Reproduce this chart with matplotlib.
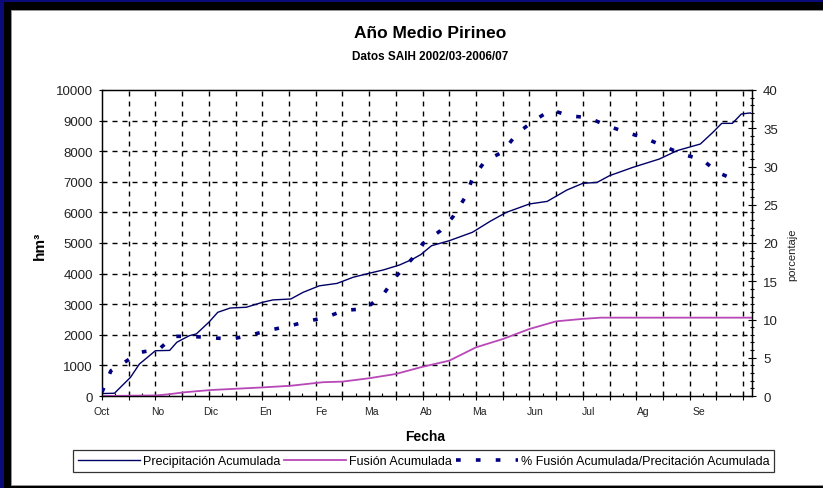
import matplotlib.pyplot as plt
from matplotlib.patches import Rectangle
from matplotlib.ticker import MultipleLocator

plt.rcParams['font.family'] = ['Liberation Sans', 'DejaVu Sans']

# days counted from 1 October
precip_days = [0, 7, 16, 21, 30, 38, 42, 49, 53, 60, 65, 72, 81, 90, 96, 106, 113, 122,
               132, 141, 150, 158, 167, 174, 179, 185, 195, 208, 218, 227, 240, 250, 261,
               270, 278, 285, 298, 313, 323, 336, 343, 348, 354, 359, 364]
precip_vals = [80, 90, 610, 1045, 1480, 1490, 1755, 1970, 2030, 2410, 2735, 2875, 2900,
               3060, 3140, 3170, 3390, 3600, 3680, 3880, 4010, 4120, 4280, 4460, 4620,
               4910, 5075, 5350, 5710, 6000, 6275, 6360, 6730, 6950, 6980, 7200, 7470,
               7745, 8020, 8235, 8615, 8910, 8910, 9215, 9250]

fusion_days = [0, 16, 31, 38, 46, 61, 90, 106, 124, 135, 150, 165, 179, 195, 210, 225,
               240, 255, 270, 280, 365]
fusion_vals = [0, 10, 20, 60, 120, 195, 280, 335, 450, 470, 580, 720, 940, 1155, 1590,
               1860, 2190, 2440, 2520, 2560, 2560]

pct_days = [0, 5, 12, 21, 32, 40, 50, 62, 73, 84, 94, 106, 116, 126, 136, 148, 158, 165,
            174, 180, 190, 197, 204, 208, 215, 225, 233, 242, 252, 263, 273, 284, 294,
            305, 316, 326, 337, 346, 357]
pct_vals = [0.5, 3.3, 4.3, 5.7, 6.1, 7.8, 7.8, 7.6, 7.45, 8.0, 8.6, 9.2, 9.8, 10.3, 11.2,
            11.4, 13.3, 15.6, 17.9, 19.9, 21.6, 23.4, 26.0, 28.4, 30.7, 31.9, 34.3, 35.9,
            37.4, 36.6, 36.4, 35.3, 34.5, 33.7, 32.6, 31.6, 30.9, 29.2, 28.1]

month_days = [0, 31, 61, 92, 123, 151, 182, 212, 243, 273, 304, 335]
month_labels = ['Oct', 'No', 'Dic', 'En', 'Fe', 'Ma', 'Ab', 'Ma', 'Jun', 'Jul', 'Ag', 'Se']

W, H = 823, 489
fig = plt.figure(figsize=(W / 100, H / 100), dpi=100, facecolor='#0a0a78')
fig.patches.append(Rectangle((4 / W, 0), 1, 486 / H, transform=fig.transFigure,
                             facecolor='black', edgecolor='none', zorder=-3))
fig.patches.append(Rectangle((11 / W, 3 / H), 1, 475 / H, transform=fig.transFigure,
                             facecolor='white', edgecolor='#999999', lw=0.6, zorder=-2))

ax = fig.add_axes([102 / W, 1 - 397 / H, 650 / W, 306 / H])
ax.set_facecolor('white')
ax2 = ax.twinx()

grid_kw = dict(color='black', lw=1.0, linestyle=(0, (3.6, 3.6)), zorder=0)
for d in range(15, 361, 15):
    ax.axvline(d, **grid_kw)
for v in range(1000, 10000, 1000):
    ax.axhline(v, **grid_kw)

l1, = ax.plot(precip_days, precip_vals, color='#000066', lw=1.0, zorder=3)
l2, = ax.plot(fusion_days, fusion_vals, color='#b848b8', lw=1.3, zorder=3)
l3, = ax2.plot(pct_days, pct_vals, color='#000080', lw=2.6, linestyle=(0, (1.3, 4.2)),
               zorder=3)

ax.set_xlim(0, 365)
ax.set_ylim(0, 10000)
ax2.set_ylim(0, 40)

ax.set_xticks(range(0, 366, 15))
ax.set_xticklabels([])
ax.xaxis.set_minor_locator(MultipleLocator(7.5))
ax.tick_params(axis='x', which='major', direction='inout', length=6, width=0.8)
ax.tick_params(axis='x', which='minor', direction='in', length=2, width=0.8)
for d, lab in zip(month_days, month_labels):
    ax.text(d, -0.033, lab, transform=ax.get_xaxis_transform(), ha='center', va='top',
            fontsize=7.5, color='#222222')

ax.yaxis.set_major_locator(MultipleLocator(1000))
ax.tick_params(axis='y', direction='inout', length=5, width=0.8, labelsize=9.5,
               labelcolor='#222222', pad=4)
ax2.yaxis.set_major_locator(MultipleLocator(5))
ax2.yaxis.set_minor_locator(MultipleLocator(1))
ax2.tick_params(axis='y', which='major', direction='inout', length=6, width=0.8,
                labelsize=9.5, labelcolor='#222222', pad=5)
ax2.tick_params(axis='y', which='minor', direction='inout', length=3, width=0.8)

for a in (ax, ax2):
    for s in a.spines.values():
        s.set_linewidth(0.9)
        s.set_color('black')

fig.text(430 / W, 1 - 33 / H, 'Año Medio Pirineo', ha='center', va='center',
         fontsize=12.5, fontweight='bold')
fig.text(430 / W, 1 - 57 / H, 'Datos SAIH 2002/03-2006/07', ha='center', va='center',
         fontsize=8.5, fontweight='bold')
fig.text(425 / W, 1 - 437 / H, 'Fecha', ha='center', va='center', fontsize=10,
         fontweight='bold')
fig.text(40 / W, 1 - 246 / H, 'hm³', ha='center', va='center', rotation=90,
         fontsize=11, fontweight='bold')
fig.text(792 / W, 1 - 255 / H, 'porcentaje', ha='center', va='center', rotation=90,
         fontsize=8, color='#222222')

leg = fig.legend([l1, l2, l3],
                 ['Precipitación Acumulada', 'Fusión Acumulada',
                  '% Fusión Acumulada/Precitación Acumulada'],
                 loc='center', bbox_to_anchor=(423.5 / W, 1 - 462 / H), ncol=3,
                 fontsize=9, frameon=True, fancybox=False, handlelength=5.0,
                 handletextpad=0.2, columnspacing=0.3, borderpad=0.4)
leg.get_frame().set_edgecolor('black')
leg.get_frame().set_linewidth(0.9)

fig.savefig('out.png', dpi=100, facecolor=fig.get_facecolor())
